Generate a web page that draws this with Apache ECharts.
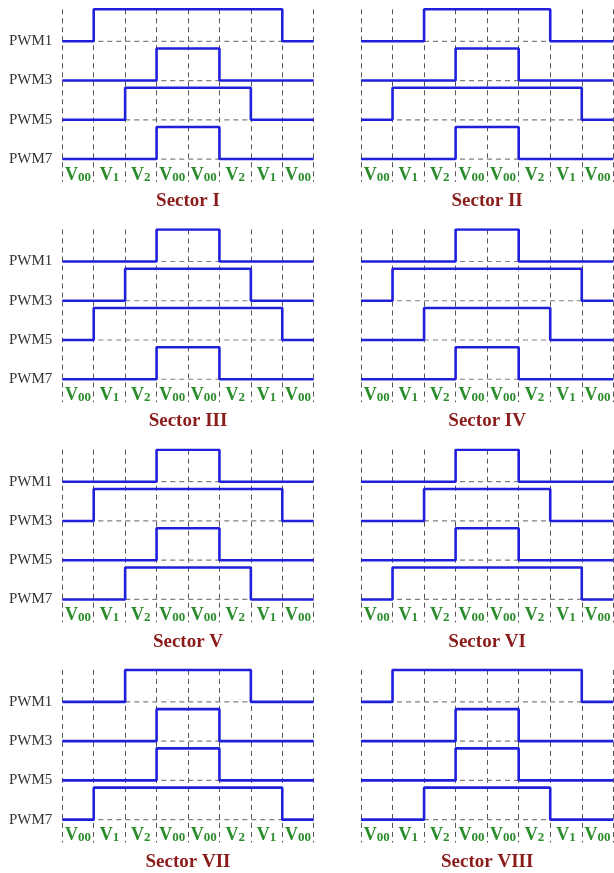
<!DOCTYPE html>
<html>
<head>
<meta charset="utf-8">
<script src="https://cdn.jsdelivr.net/npm/echarts@6/dist/echarts.min.js"></script>
<style>
  html, body { margin: 0; padding: 0; background: #ffffff; }
  #chart { width: 614px; height: 873px; }
</style>
</head>
<body>
<div id="chart"></div>
<script>
// Switching sequences of the four PWM channels over one carrier period,
// one panel per sector.
const sectorNames = ['Sector I', 'Sector II', 'Sector III', 'Sector IV',
                     'Sector V', 'Sector VI', 'Sector VII', 'Sector VIII'];
const channelNames = ['PWM1', 'PWM3', 'PWM5', 'PWM7'];
const slotLabels = ['V00', 'V1', 'V2', 'V00', 'V00', 'V2', 'V1', 'V00'];

// Slot index at which each channel goes high in every sector;
// the pulse is centred, so it goes low again at (8 - index).
const pwm1On = [1, 2, 3, 3, 3, 3, 2, 1];
const pwm3On = [3, 3, 2, 1, 1, 2, 3, 3];
const pwm5On = [2, 1, 1, 2, 3, 3, 3, 3];
const pwm7On = [3, 3, 3, 3, 2, 1, 1, 2];

const channelOn = [pwm1On, pwm3On, pwm5On, pwm7On];
const SLOTS = slotLabels.length;

// Layout of the 4 x 2 panel grid
const colLeft = [62.3, 361];
const colWidth = [251.4, 252.3];
const rowTop = 9.3;
const rowStep = 220.2;
const gridHeight = 172.7;
const Y_MIN = -0.585;
const Y_MAX = 3.815;
const PULSE = 0.815;       // pulse height in channel-spacing units

const SERIF = '"Liberation Serif", "Times New Roman", serif';
const BLUE = '#2020dc';

const grids = [], xAxes = [], yAxes = [], series = [], titles = [];

sectorNames.forEach((name, s) => {
  const row = Math.floor(s / 2);
  const col = s % 2;
  const top = rowTop + row * rowStep;

  grids.push({ left: colLeft[col], width: colWidth[col], top: top, height: gridHeight });

  // time axis: dashed slot boundaries
  xAxes.push({
    type: 'value', gridIndex: s, min: 0, max: SLOTS, interval: 1, position: 'top',
    axisLine: { show: false }, axisTick: { show: false }, axisLabel: { show: false },
    splitLine: { show: true, lineStyle: { type: [5, 4], color: '#555555', width: 1 } }
  });
  // slot names, centred in each slot
  xAxes.push({
    type: 'category', gridIndex: s, data: slotLabels, position: 'bottom', boundaryGap: true,
    axisLine: { show: false }, axisTick: { show: false }, splitLine: { show: false },
    axisLabel: {
      interval: 0, margin: -7, verticalAlign: 'middle',
      formatter: v => '{v|' + v.charAt(0) + '}{s|' + v.slice(1) + '}',
      rich: {
        v: { fontFamily: SERIF, fontWeight: 'bold', fontSize: 18, color: '#2a8c2a', verticalAlign: 'bottom' },
        s: { fontFamily: SERIF, fontWeight: 'bold', fontSize: 13, color: '#2a8c2a', verticalAlign: 'bottom' }
      }
    }
  });

  yAxes.push({
    type: 'value', gridIndex: s, min: Y_MIN, max: Y_MAX,
    axisLine: { show: false }, axisTick: { show: false }, splitLine: { show: false },
    axisLabel: {
      show: col === 0,
      customValues: [0, 1, 2, 3],
      formatter: v => channelNames[channelNames.length - 1 - Math.round(v)],
      margin: 10, padding: [0, 0, 3, 0],
      fontFamily: SERIF, fontSize: 15, color: '#333333'
    }
  });

  channelNames.forEach((ch, k) => {
    const base = channelNames.length - 1 - k;
    const on = channelOn[k][s];
    const data = [];
    for (let i = 0; i <= SLOTS; i++) {
      const slot = Math.min(i, SLOTS - 1);
      const high = slot >= on && slot < SLOTS - on;
      data.push([i, base + (high ? PULSE : 0)]);
    }
    // dashed zero level of the channel, drawn beneath the waveform
    series.push({
      name: name + ' ' + ch + ' level',
      type: 'line', z: 1,
      xAxisIndex: 2 * s, yAxisIndex: s,
      data: [[0, base], [SLOTS, base]], showSymbol: false, silent: true,
      lineStyle: { type: [5, 4], color: '#808080', width: 1.2 }
    });
    series.push({
      name: name + ' ' + ch,
      type: 'line', step: 'end', z: 3,
      xAxisIndex: 2 * s, yAxisIndex: s,
      data: data, showSymbol: false, silent: true,
      lineStyle: { color: BLUE, width: 2.6 }
    });
  });

  titles.push({
    text: name,
    left: colLeft[col] + colWidth[col] / 2,
    top: top + 32 + 160,
    textAlign: 'center', textVerticalAlign: 'middle', padding: 0,
    textStyle: { fontFamily: SERIF, fontWeight: 'bold', fontSize: 19, color: '#8b1c1c' }
  });
});

const chart = echarts.init(document.getElementById('chart'), null, { renderer: 'canvas' });
chart.setOption({
  animation: false,
  backgroundColor: '#ffffff',
  title: titles,
  grid: grids,
  xAxis: xAxes,
  yAxis: yAxes,
  series: series
});
</script>
</body>
</html>
